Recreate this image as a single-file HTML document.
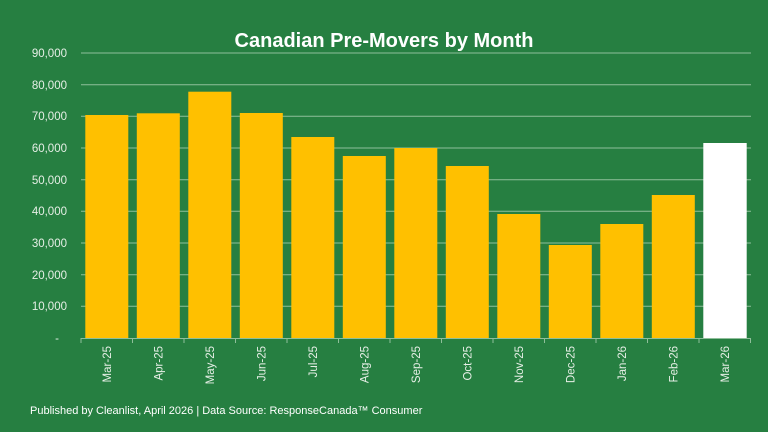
<!DOCTYPE html><html><head><style>body{margin:0;background:#267f41;}svg{display:block}</style></head><body>
<svg width="768" height="432" xmlns="http://www.w3.org/2000/svg" font-family="Liberation Sans, sans-serif">
<rect width="768" height="432" fill="#267f41"/>
<text x="384" y="47" text-anchor="middle" font-size="20" font-weight="bold" fill="#fff">Canadian Pre-Movers by Month</text>
<g stroke="#8fbf9a" stroke-width="1">
<line x1="81" x2="751" y1="53" y2="53"/><line x1="81" x2="751" y1="84.7" y2="84.7"/><line x1="81" x2="751" y1="116.3" y2="116.3"/><line x1="81" x2="751" y1="148" y2="148"/><line x1="81" x2="751" y1="179.7" y2="179.7"/><line x1="81" x2="751" y1="211.3" y2="211.3"/><line x1="81" x2="751" y1="243" y2="243"/><line x1="81" x2="751" y1="274.7" y2="274.7"/><line x1="81" x2="751" y1="306.3" y2="306.3"/>
</g>
<g fill="#e6efe6" font-size="11.5" text-anchor="end">
<text x="67" y="57">90,000</text><text x="67" y="89">80,000</text><text x="67" y="120">70,000</text><text x="67" y="152">60,000</text><text x="67" y="184">50,000</text><text x="67" y="215">40,000</text><text x="67" y="247">30,000</text><text x="67" y="279">20,000</text><text x="67" y="310">10,000</text><text x="59" y="342">-</text>
</g>
<g fill="#ffc000">
<rect x="85.3" y="115" width="43" height="223"/>
<rect x="136.8" y="113.3" width="43" height="224.7"/>
<rect x="188.3" y="91.7" width="43" height="246.3"/>
<rect x="239.8" y="113" width="43" height="225"/>
<rect x="291.3" y="137" width="43" height="201"/>
<rect x="342.8" y="156" width="43" height="182"/>
<rect x="394.3" y="148" width="43" height="190"/>
<rect x="445.8" y="166" width="43" height="172"/>
<rect x="497.3" y="214" width="43" height="124"/>
<rect x="548.8" y="245" width="43" height="93"/>
<rect x="600.3" y="224" width="43" height="114"/>
<rect x="651.8" y="195" width="43" height="143"/>
</g>
<rect x="703.3" y="143" width="43.4" height="195" fill="#fff"/>
<line x1="81" x2="751" y1="338.5" y2="338.5" stroke="#8fbf9a"/>
<g stroke="#8fbf9a"><line x1="81" x2="81" y1="338" y2="343"/><line x1="132.5" x2="132.5" y1="338" y2="343"/><line x1="184" x2="184" y1="338" y2="343"/><line x1="235.5" x2="235.5" y1="338" y2="343"/><line x1="287" x2="287" y1="338" y2="343"/><line x1="338.5" x2="338.5" y1="338" y2="343"/><line x1="390" x2="390" y1="338" y2="343"/><line x1="441.5" x2="441.5" y1="338" y2="343"/><line x1="493" x2="493" y1="338" y2="343"/><line x1="544.5" x2="544.5" y1="338" y2="343"/><line x1="596" x2="596" y1="338" y2="343"/><line x1="647.5" x2="647.5" y1="338" y2="343"/><line x1="699" x2="699" y1="338" y2="343"/><line x1="750.5" x2="750.5" y1="338" y2="343"/></g>
<g fill="#e6efe6" font-size="11.5" text-anchor="end">
<text transform="translate(111,346) rotate(-90)">Mar-25</text>
<text transform="translate(162.5,346) rotate(-90)">Apr-25</text>
<text transform="translate(214,346) rotate(-90)">May-25</text>
<text transform="translate(265.5,346) rotate(-90)">Jun-25</text>
<text transform="translate(317,346) rotate(-90)">Jul-25</text>
<text transform="translate(368.5,346) rotate(-90)">Aug-25</text>
<text transform="translate(420,346) rotate(-90)">Sep-25</text>
<text transform="translate(471.5,346) rotate(-90)">Oct-25</text>
<text transform="translate(523,346) rotate(-90)">Nov-25</text>
<text transform="translate(574.5,346) rotate(-90)">Dec-25</text>
<text transform="translate(626,346) rotate(-90)">Jan-26</text>
<text transform="translate(677.5,346) rotate(-90)">Feb-26</text>
<text transform="translate(729,346) rotate(-90)">Mar-26</text>
</g>
<text x="30" y="414" font-size="11" fill="#fff">Published by Cleanlist, April 2026 | Data Source: ResponseCanada™ Consumer</text>
</svg></body></html>
